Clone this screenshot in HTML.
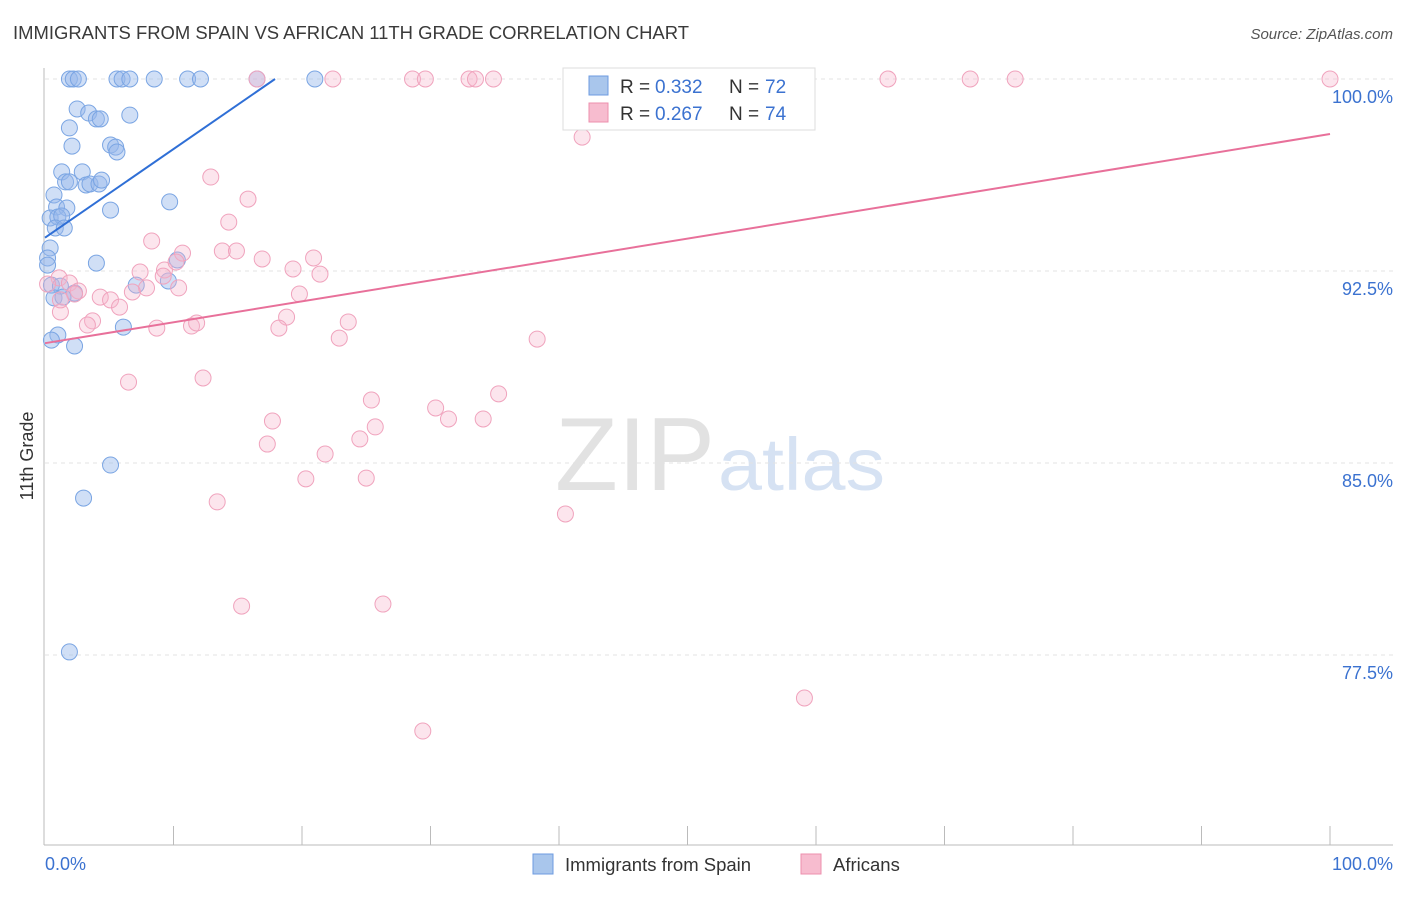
<!DOCTYPE html>
<html><head><meta charset="utf-8"><style>
body{margin:0;background:#fff;font-family:"Liberation Sans",sans-serif;}
svg text{font-family:"Liberation Sans",sans-serif;}
</style></head><body>
<svg id="chart" width="1406" height="892" xmlns="http://www.w3.org/2000/svg">
<text x="13" y="39" font-size="18.5" fill="#3a3a3a" textLength="676" lengthAdjust="spacingAndGlyphs">IMMIGRANTS FROM SPAIN VS AFRICAN 11TH GRADE CORRELATION CHART</text>
<text x="1393" y="39" font-size="15" fill="#555" text-anchor="end" font-style="italic">Source: ZipAtlas.com</text>
<text x="555" y="490" font-size="104" fill="#e2e2e2" font-family="Liberation Serif" textLength="160" lengthAdjust="spacingAndGlyphs">ZIP</text>
<text x="718" y="490" font-size="74" fill="#d6e2f3" textLength="167" lengthAdjust="spacingAndGlyphs">atlas</text>
<text transform="translate(33,456) rotate(-90)" font-size="18" fill="#333" text-anchor="middle">11th Grade</text>
<g id="grid"></g><g id="axes"></g><g id="pts"></g><g id="lines"></g>
<g>
<rect x="563" y="68" width="252" height="62" fill="#fff" stroke="#ddd"/>
<rect x="589" y="76" width="19" height="19" fill="#a9c6ec" stroke="#6d9be0"/>
<text x="620" y="93" font-size="19" fill="#333">R = </text><text x="655" y="93" font-size="19" fill="#3b72d0">0.332</text>
<text x="729" y="93" font-size="19" fill="#333">N = </text><text x="765" y="93" font-size="19" fill="#3b72d0">72</text>
<rect x="589" y="103" width="19" height="19" fill="#f7bccf" stroke="#ec8fae"/>
<text x="620" y="120" font-size="19" fill="#333">R = </text><text x="655" y="120" font-size="19" fill="#3b72d0">0.267</text>
<text x="729" y="120" font-size="19" fill="#333">N = </text><text x="765" y="120" font-size="19" fill="#3b72d0">74</text>
</g>
<g>
<rect x="533" y="854" width="20" height="20" fill="#a9c6ec" stroke="#6d9be0"/>
<text x="565" y="871" font-size="18.5" fill="#333">Immigrants from Spain</text>
<rect x="801" y="854" width="20" height="20" fill="#f7bccf" stroke="#ec8fae"/>
<text x="833" y="871" font-size="18.5" fill="#333">Africans</text>
</g>
</svg>
<script>
const yTicks=[100,92.5,85,77.5];
const yTickLabels=["100.0%","92.5%","85.0%","77.5%"];
const blueX=[1.9,2.2,2.6,5.6,6.0,6.6,8.5,11.1,12.1,16.5,21.0,2.5,3.4,4.0,4.3,6.6,1.9,2.1,5.1,5.5,5.6,1.3,2.9,1.6,1.9,3.2,3.5,4.2,4.4,0.7,0.9,1.7,5.1,9.7,0.4,1.0,1.3,0.8,1.5,0.4,0.2,0.2,4.0,10.3,7.1,9.6,0.5,1.2,2.3,0.7,1.4,6.1,1.0,0.5,2.3,5.1,3.0,1.9];
const blueY=[100,100,100,100,100,100,100,100,100,100,100,98.83,98.67,98.44,98.44,98.59,98.09,97.38,97.42,97.34,97.15,96.37,96.37,95.98,95.98,95.86,95.9,95.9,96.05,95.47,95.0,94.96,94.88,95.2,94.57,94.61,94.65,94.18,94.18,93.4,93.01,92.73,92.81,92.93,91.95,92.11,91.95,91.91,91.64,91.45,91.48,90.31,90.0,89.8,89.57,84.92,83.63,77.62];
const pinkX=[16.5,22.4,28.6,29.6,33.0,33.5,34.9,52.4,65.6,72.0,75.5,100,42.4,55.5,41.8,12.9,15.8,14.3,8.3,10.7,13.8,14.9,16.9,20.9,19.3,21.4,7.4,9.3,10.2,1.1,0.2,1.9,2.6,7.9,10.4,9.2,6.8,4.3,5.1,5.8,19.8,18.8,3.7,3.3,8.7,11.4,11.8,18.2,23.6,22.9,38.3,1.2,12.3,6.5,35.3,25.4,30.4,31.4,34.1,17.7,25.7,24.5,17.3,21.8,20.3,25.0,13.4,40.5,15.3,26.3,59.1,29.4,2.3,1.2];
const pinkY=[100,100,100,100,100,100,100,100,100,100,100,100,100,99.02,97.73,96.17,95.31,94.41,93.67,93.2,93.28,93.28,92.97,93.01,92.58,92.38,92.46,92.54,92.85,92.23,91.99,92.03,91.72,91.84,91.84,92.3,91.68,91.48,91.37,91.09,91.6,90.7,90.55,90.39,90.27,90.35,90.47,90.27,90.51,89.88,89.84,90.9,88.32,88.16,87.7,87.46,87.15,86.72,86.72,86.64,86.41,85.94,85.74,85.35,84.38,84.41,83.48,83.01,79.41,79.49,75.82,74.53,91.6,91.37];
const blueTrend=[[0,93.8],[17.9,100]];
const pinkTrend=[[0,89.68],[100,97.85]];
const NS="http://www.w3.org/2000/svg";
const sx=v=>45+v*12.85;
const sy=v=>79+(100-v)*25.6;
function mk(t,a,p){const e=document.createElementNS(NS,t);for(const k in a)e.setAttribute(k,a[k]);p.appendChild(e);return e;}
const grid=document.getElementById('grid'),axes=document.getElementById('axes');
yTicks.forEach((t,i)=>{
 const l=mk('line',{x1:45,x2:1393,y1:sy(t),y2:sy(t),stroke:'#e3e3e3','stroke-dasharray':'4,4'},grid);
 
 
 const tx=mk('text',{x:1393,y:sy(t)+24,'font-size':18,fill:'#3b72d0','text-anchor':'end'},axes);
 tx.textContent=yTickLabels[i];
 
 
});
mk('line',{x1:44,x2:44,y1:68,y2:845,stroke:'#bbb'},axes);
mk('line',{x1:44,x2:1393,y1:845,y2:845,stroke:'#bbb'},axes);
for(let i=1;i<=10;i++){mk('line',{x1:sx(i*10),x2:sx(i*10),y1:826,y2:845,stroke:'#bbb'},axes);}
const x0=mk('text',{x:45,y:870,'font-size':18,fill:'#3b72d0'},axes);x0.textContent='0.0%';


const x1=mk('text',{x:1393,y:870,'font-size':18,fill:'#3b72d0','text-anchor':'end'},axes);x1.textContent='100.0%';


const pts=document.getElementById('pts');
blueX.forEach((x,i)=>{const c=mk('circle',{cx:sx(x),cy:sy(blueY[i]),r:8,fill:'rgba(150,185,235,0.45)',stroke:'#7aa5e3','stroke-width':1},pts);
 
 });
pinkX.forEach((x,i)=>{const c=mk('circle',{cx:sx(x),cy:sy(pinkY[i]),r:8,fill:'rgba(245,180,202,0.35)',stroke:'#f0a3bd','stroke-width':1},pts);
 
 });
const lines=document.getElementById('lines');
const bl=mk('line',{x1:sx(blueTrend[0][0]),y1:sy(blueTrend[0][1]),x2:sx(blueTrend[1][0]),y2:sy(blueTrend[1][1]),stroke:'#2f6fd6','stroke-width':2},lines);


const pl=mk('line',{x1:sx(pinkTrend[0][0]),y1:sy(pinkTrend[0][1]),x2:sx(pinkTrend[1][0]),y2:sy(pinkTrend[1][1]),stroke:'#e8709a','stroke-width':2},lines);


</script>
</body></html>
